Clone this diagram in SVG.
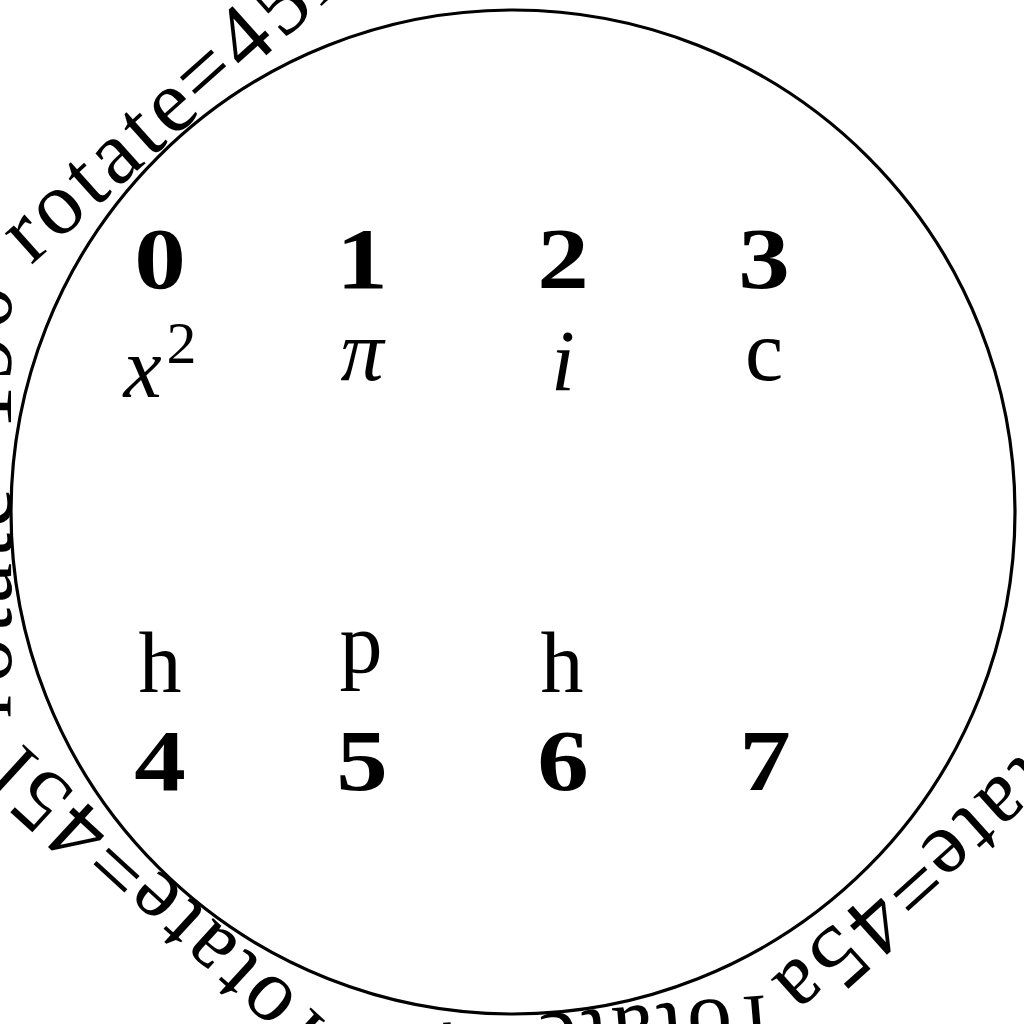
<svg xmlns="http://www.w3.org/2000/svg" width="1024" height="1024" viewBox="0 0 1024 1024">
  <style>
    .t { font-family: "Liberation Serif", "DejaVu Serif", serif; font-size: 86px; fill: #000; text-anchor: middle; }
    .b { font-weight: bold; }
    .i { font-style: italic; }
    .pt { font-family: "Liberation Serif", "DejaVu Serif", serif; font-size: 90px; fill: #000; letter-spacing: 5px; }
    .end { text-anchor: end; }
  </style>
  <rect width="1024" height="1024" fill="#fff"/>
  <g id="ring">
    <circle cx="513" cy="512" r="502" fill="none" stroke="#000" stroke-width="3.2"/>
  </g>
  <g id="ring-text">
    <g id="chunk-a" transform="translate(513 512) rotate(48) translate(520 0) rotate(90)">
      <text class="pt"><tspan class="end" x="-70" y="0">rotate</tspan><tspan x="-73" y="0">=45a</tspan></text>
    </g>
    <g id="chunk-b" transform="translate(513 512) rotate(85.1) translate(503 0) rotate(90)">
      <text class="pt"><tspan class="end" x="25" y="0">rotate</tspan><tspan x="22" y="0">=45</tspan></text>
    </g>
    <g id="chunk-c" transform="translate(513 512) rotate(132.5) translate(502 0) rotate(90)">
      <text class="pt"><tspan class="end" x="28" y="0">rotate</tspan><tspan x="25" y="0">=45l</tspan></text>
    </g>
    <g id="chunk-d" transform="translate(513 512) rotate(180) translate(502 0) rotate(90)">
      <text class="pt"><tspan class="end" x="29" y="0">rotate</tspan><tspan x="26" y="0">=190</tspan></text>
    </g>
    <g id="chunk-e" transform="translate(513 512) rotate(229.2) translate(505 0) rotate(90) rotate(-1)">
      <text class="pt"><tspan class="end" x="31" y="0">rotate</tspan><tspan x="28" y="0">=45l</tspan></text>
    </g>
  </g>
  <g id="node0">
    <text class="t b" transform="translate(160 288) scale(1.2 1)">0</text>
    <text class="t" x="160" y="397"><tspan class="i">x</tspan><tspan font-size="60" dx="5" dy="-34">2</tspan></text>
  </g>
  <g id="node1">
    <text class="t b" transform="translate(362 288) scale(1.2 1)">1</text>
    <text class="t i" x="362" y="380">π</text>
  </g>
  <g id="node2">
    <text class="t b" transform="translate(563 288) scale(1.2 1)">2</text>
    <text class="t i" x="563" y="390">i</text>
  </g>
  <g id="node3">
    <text class="t b" transform="translate(764 288) scale(1.2 1)">3</text>
    <text class="t" x="764" y="380">c</text>
  </g>
  <g id="node4">
    <text class="t" x="160" y="692">h</text>
    <text class="t b" transform="translate(160 790) scale(1.2 1)">4</text>
  </g>
  <g id="node5">
    <text class="t" x="361" y="672">p</text>
    <text class="t b" transform="translate(362 790) scale(1.2 1)">5</text>
  </g>
  <g id="node6">
    <text class="t" x="562" y="692">h</text>
    <text class="t b" transform="translate(563 790) scale(1.2 1)">6</text>
  </g>
  <g id="node7">
    <text class="t b" transform="translate(765 790) scale(1.2 1)">7</text>
  </g>
</svg>
